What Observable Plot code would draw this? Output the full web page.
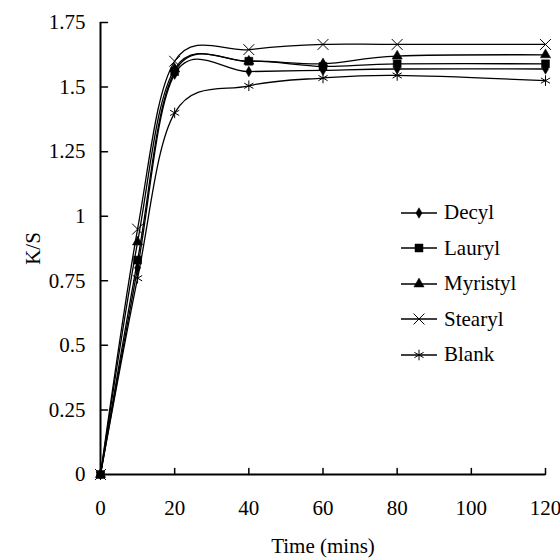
<!DOCTYPE html>
<html><head><meta charset="utf-8">
<script src="https://cdn.jsdelivr.net/npm/d3@7"></script>
<script src="https://cdn.jsdelivr.net/npm/@observablehq/plot@0.6"></script>
<style>
body{margin:0;background:#fff;}
#wrap{position:relative;width:560px;height:560px;}
#legend{position:absolute;left:400px;top:195px;font-family:"Liberation Serif",serif;font-size:21px;color:#000;}
.row{display:flex;align-items:center;height:35.5px;}
.row span{margin-left:6px;}
</style></head><body><div id="wrap"><div id="legend"></div></div>
<script>
const times = [0, 10, 20, 40, 60, 80, 120];
const seriesNames = ["Decyl", "Lauryl", "Myristyl", "Stearyl", "Blank"];
const decyl    = [0, 0.80, 1.55, 1.56, 1.565, 1.57, 1.57];
const lauryl   = [0, 0.83, 1.56, 1.60, 1.58, 1.59, 1.59];
const myristyl = [0, 0.90, 1.57, 1.60, 1.59, 1.62, 1.625];
const stearyl  = [0, 0.95, 1.60, 1.645, 1.665, 1.665, 1.665];
const blank    = [0, 0.76, 1.40, 1.505, 1.535, 1.545, 1.525];
const xTicks = [0, 20, 40, 60, 80, 100, 120];
const yTicks = [0, 0.25, 0.5, 0.75, 1, 1.25, 1.5, 1.75];

const seriesValues = [decyl, lauryl, myristyl, stearyl, blank];
const markers = {
  Decyl:    {symbol: "diamond",  r: 3.2, filled: true},
  Lauryl:   {symbol: "square",   r: 4.5, filled: true},
  Myristyl: {symbol: "triangle", r: 3.8, filled: true},
  Stearyl:  {symbol: "times",    r: 5,   filled: false},
  Blank:    {symbol: "asterisk", r: 5,   filled: false}
};

const data = [];
seriesNames.forEach((s, i) => times.forEach((t, j) => data.push({series: s, time: t, value: seriesValues[i][j]})));

const dotMarks = seriesNames.map(s => {
  const m = markers[s];
  return Plot.dot(data.filter(d => d.series === s), {
    x: "time", y: "value", symbol: () => m.symbol, r: m.r,
    fill: m.filled ? "black" : "none", stroke: "black", strokeWidth: m.filled ? 0.5 : 1
  });
});

const tickShape = {draw(context, l) { context.moveTo(0, 0); context.lineTo(0, -l); }};

const chart = Plot.plot({
  width: 560, height: 560,
  marginLeft: 100, marginRight: 15, marginTop: 22, marginBottom: 86,
  style: {fontFamily: "'Liberation Serif', serif", fontSize: "21px", color: "black", background: "white"},
  x: {domain: [0, 120]},
  y: {domain: [0, 1.75]},
  symbol: {type: "identity"},
  marks: [
    Plot.axisX({ticks: xTicks, tickSize: 0, tickPadding: 26, tickFormat: d => String(d),
      label: "Time (mins)", labelAnchor: "center", labelArrow: "none", labelOffset: 78}),
    Plot.axisY({ticks: yTicks, tickSize: 0, tickPadding: 15, tickFormat: d => String(d),
      label: "K/S", labelAnchor: "center", labelArrow: "none", labelOffset: 75}),
    Plot.vector(xTicks.slice(1), {x: d => d, y: 0, length: 6, anchor: "start", shape: tickShape, stroke: "black", strokeWidth: 1.5}),
    Plot.vector(yTicks.slice(1), {x: 0, y: d => d, length: 7, rotate: 90, anchor: "start", shape: tickShape, stroke: "black", strokeWidth: 1.5}),
    Plot.ruleY([0], {stroke: "black", strokeWidth: 2}),
    Plot.ruleX([0], {stroke: "black", strokeWidth: 2}),
    Plot.line(data, {x: "time", y: "value", z: "series", curve: "cardinal", stroke: "black", strokeWidth: 1.3}),
    ...dotMarks
  ]
});
document.getElementById("wrap").prepend(chart);

// legend
const legend = d3.select("#legend");
seriesNames.forEach(s => {
  const m = markers[s];
  const row = legend.append("div").attr("class", "row");
  const svg = row.append("svg").attr("width", 38).attr("height", 20);
  svg.append("line").attr("x1", 1).attr("x2", 37).attr("y1", 10).attr("y2", 10).attr("stroke", "black").attr("stroke-width", 1.3);
  const symType = {diamond: d3.symbolDiamond, square: d3.symbolSquare, triangle: d3.symbolTriangle, times: d3.symbolTimes, asterisk: d3.symbolAsterisk}[m.symbol];
  svg.append("path").attr("transform", "translate(19,10)")
    .attr("d", d3.symbol(symType, Math.PI * m.r * m.r)())
    .attr("fill", m.filled ? "black" : "none").attr("stroke", "black").attr("stroke-width", m.filled ? 0.5 : 1);
  row.append("span").text(s);
});
</script>
</body></html>
